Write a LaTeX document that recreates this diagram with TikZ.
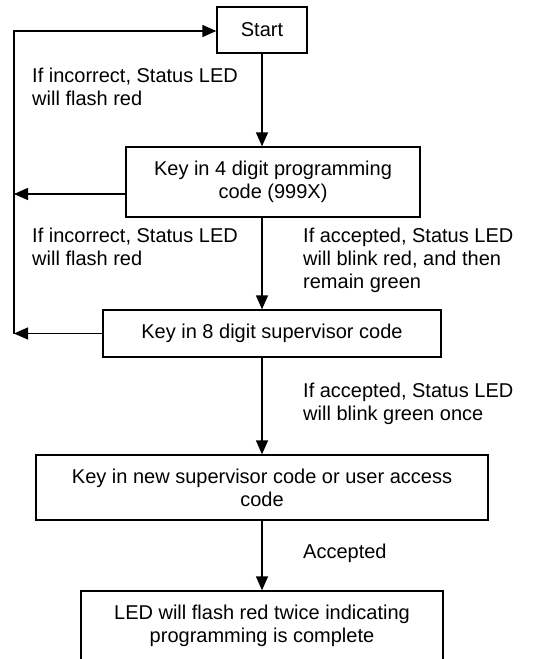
\documentclass[tikz,border=0pt]{standalone}
\usepackage{fontspec}
\setmainfont{Liberation Sans}
\usetikzlibrary{
  arrows.meta,
  positioning
}

\begin{document}
\begin{tikzpicture}[
  x=1pt, y=-1pt,
  font=\fontsize{20}{23}\selectfont,
  stepbox/.style={
    rectangle,
    draw,
    line width=1.3pt,
    align=center,
    inner sep=0pt
  },
  note/.style={
    align=left,
    anchor=north west,
    inner sep=0pt
  },
  flow/.style={
    line width=1.3pt,
    -{Triangle[length=14pt,width=12pt]}
  }
]

\useasboundingbox (0,0) rectangle (540,659);

% boxes
\node (start) [stepbox, minimum width=90pt, minimum height=46pt] at (262,30) {Start};
\node (prog-code) [stepbox, minimum width=294pt, minimum height=70pt] at (273,182)
  {Key in 4 digit programming\\code (999X)};
\node (super-code) [stepbox, minimum width=338pt, minimum height=47pt] at (272,333.5)
  {Key in 8 digit supervisor code};
\node (new-code) [stepbox, minimum width=452pt, minimum height=65pt] at (262,487.5)
  {Key in new supervisor code or user access\\code};
\node (done) [stepbox, minimum width=362pt, minimum height=70pt] at (262,626)
  {LED will flash red twice indicating\\programming is complete};

% notes
\node (fail-one) [note] at (32,68) {If incorrect, Status LED\\will flash red};
\node (fail-two) [note] at (32,228) {If incorrect, Status LED\\will flash red};
\node (ok-one) [note] at (303,228) {If accepted, Status LED\\will blink red, and then\\remain green};
\node (ok-two) [note] at (303,383) {If accepted, Status LED\\will blink green once};
\node (ok-three) [note] at (303,544) {Accepted};

% main flow
\draw[flow] (start) -- (start |- prog-code.north);
\draw[flow] (start |- prog-code.south) -- (start |- super-code.north);
\draw[flow] (start |- super-code.south) -- (new-code);
\draw[flow] (new-code) -- (done);

% retry loop
\coordinate (loop-top) at (14,31);
\coordinate (loop-bottom) at (14,333.5);
\draw[flow] ([yshift=-12pt]prog-code.west) -- ([yshift=-12pt]prog-code.west -| loop-top);
\draw[flow] (super-code.west) -- (loop-bottom);
\draw[flow] (loop-bottom) -- (loop-top) -- (loop-top -| start.west);

\end{tikzpicture}
\end{document}
